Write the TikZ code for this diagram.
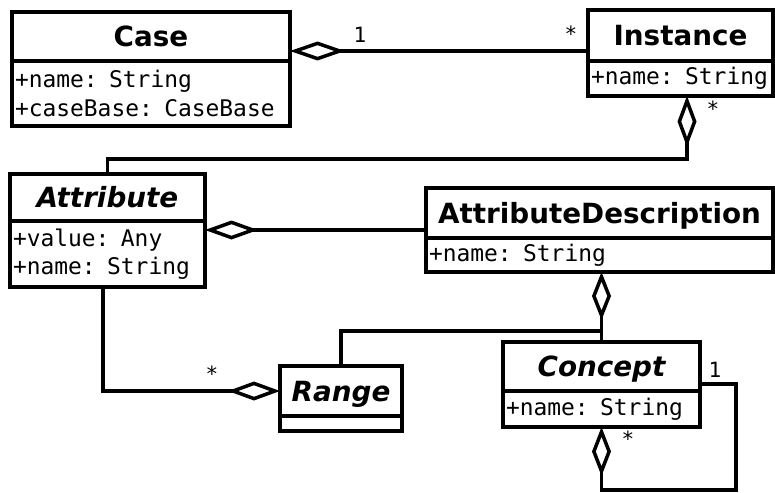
\documentclass[tikz,border=0pt]{standalone}
\usepackage{fontspec}
\setmainfont{DejaVu Sans}
\newfontfamily\umlmono{DejaVu Sans Mono}
\usetikzlibrary{arrows.meta,calc}

\begin{document}
\begin{tikzpicture}[x=1pt, y=-1pt, line width=3.5pt, line join=miter,
  every node/.style={outer sep=0pt},
  ctitle/.style={draw, anchor=north west, inner sep=0pt,
    font=\fontsize{27.8}{30}\selectfont\bfseries, text height=20pt, text depth=0pt},
  abstract/.style={ctitle, font=\fontsize{27.8}{30}\selectfont\bfseries\itshape},
  cattrs/.style={draw, anchor=north, inner xsep=3pt, inner ysep=0pt, align=left,
    font=\fontsize{22.9}{28.5}\selectfont\umlmono},
  mult/.style={anchor=base, inner sep=0pt, font=\fontsize{21}{22}\selectfont\umlmono},
  aggs/.style={{Diamond[open,length=#1,width=19pt]}-},
  agge/.style={-{Diamond[open,length=#1,width=19pt]}},
]
\useasboundingbox (0,0) rectangle (775,492);

% classes: title compartment + attribute compartment
\node[ctitle, minimum width=278pt, minimum height=49pt] (case) at (12,12) {Case};
\node[cattrs, text width=272pt, minimum height=65pt] (case-a) at (case.south)
  {+name: String\\+caseBase: CaseBase};

\node[ctitle, minimum width=185pt, minimum height=51pt] (inst) at (588,10) {Instance};
\node[cattrs, text width=179pt, minimum height=35pt] (inst-a) at (inst.south) {+name: String};

\node[abstract, minimum width=195pt, minimum height=47pt] (attr) at (10,174) {Attribute};
\node[cattrs, text width=189pt, minimum height=66pt] (attr-a) at (attr.south)
  {+value: Any\\+name: String};

\node[ctitle, minimum width=347pt, minimum height=50pt] (ad) at (426,188) {AttributeDescription};
\node[cattrs, text width=341pt, minimum height=34pt] (ad-a) at (ad.south) {+name: String};

\node[abstract, minimum width=122pt, minimum height=50pt] (range) at (280,366) {Range};
\node[cattrs, text width=116pt, minimum height=15pt] (range-a) at (range.south) {};

\node[abstract, minimum width=197pt, minimum height=49pt] (conc) at (503,342) {Concept};
\node[cattrs, text width=191pt, minimum height=36pt] (conc-a) at (conc.south) {+name: String};

% Case <>-- Instance
\coordinate (caseAgg) at ($(case.north east)+(0,39)$);
\draw[aggs=55pt] (caseAgg) -- (caseAgg -| inst.west);
\node[mult] (m-case) at (360,43) {1};
\node[mult] (m-inst) at (571,42) {*};

% Instance <>-- Attribute, AttributeDescription
\coordinate (instAgg) at ($(inst-a.south)+(6.5,0)$);
\coordinate (bus1) at ($(instAgg)+(0,63)$);
\draw[aggs=51pt] (instAgg) -- (bus1) -| (attr.north);
\draw ($(ad.north)+(1.5,0)$ |- bus1) -- ($(ad.north)+(1.5,0)$);
\node[mult] (m-instagg) at (713,116) {*};

% Attribute <>-- AttributeDescription
\coordinate (attrAgg) at ($(attr-a.north east)+(0,9)$);
\draw[aggs=53pt] (attrAgg) -- (attrAgg -| ad.west);

% AttributeDescription <>-- Concept, Range
\coordinate (adAgg) at (conc.north |- ad-a.south);
\coordinate (bus2) at (conc.north |- 0,331);
\draw[aggs=48pt] (adAgg) -- (conc.north);
\draw (bus2) -| (range.north);

% Attribute --<> Range
\draw[agge=52pt] ($(attr-a.south)+(-4.5,0)$) |- (range.west);
\node[mult] (m-range) at (212,381) {*};

% Concept self aggregation
\coordinate (selfR) at ($(conc.north east)+(0,42)$);
\draw[aggs=49pt] (conc-a.south) -- ++(0,63) -| ($(selfR)+(36,0)$) -- (selfR);
\node[mult] (m-self1) at (715,377) {1};
\node[mult] (m-self2) at (628,446) {*};
\end{tikzpicture}
\end{document}
